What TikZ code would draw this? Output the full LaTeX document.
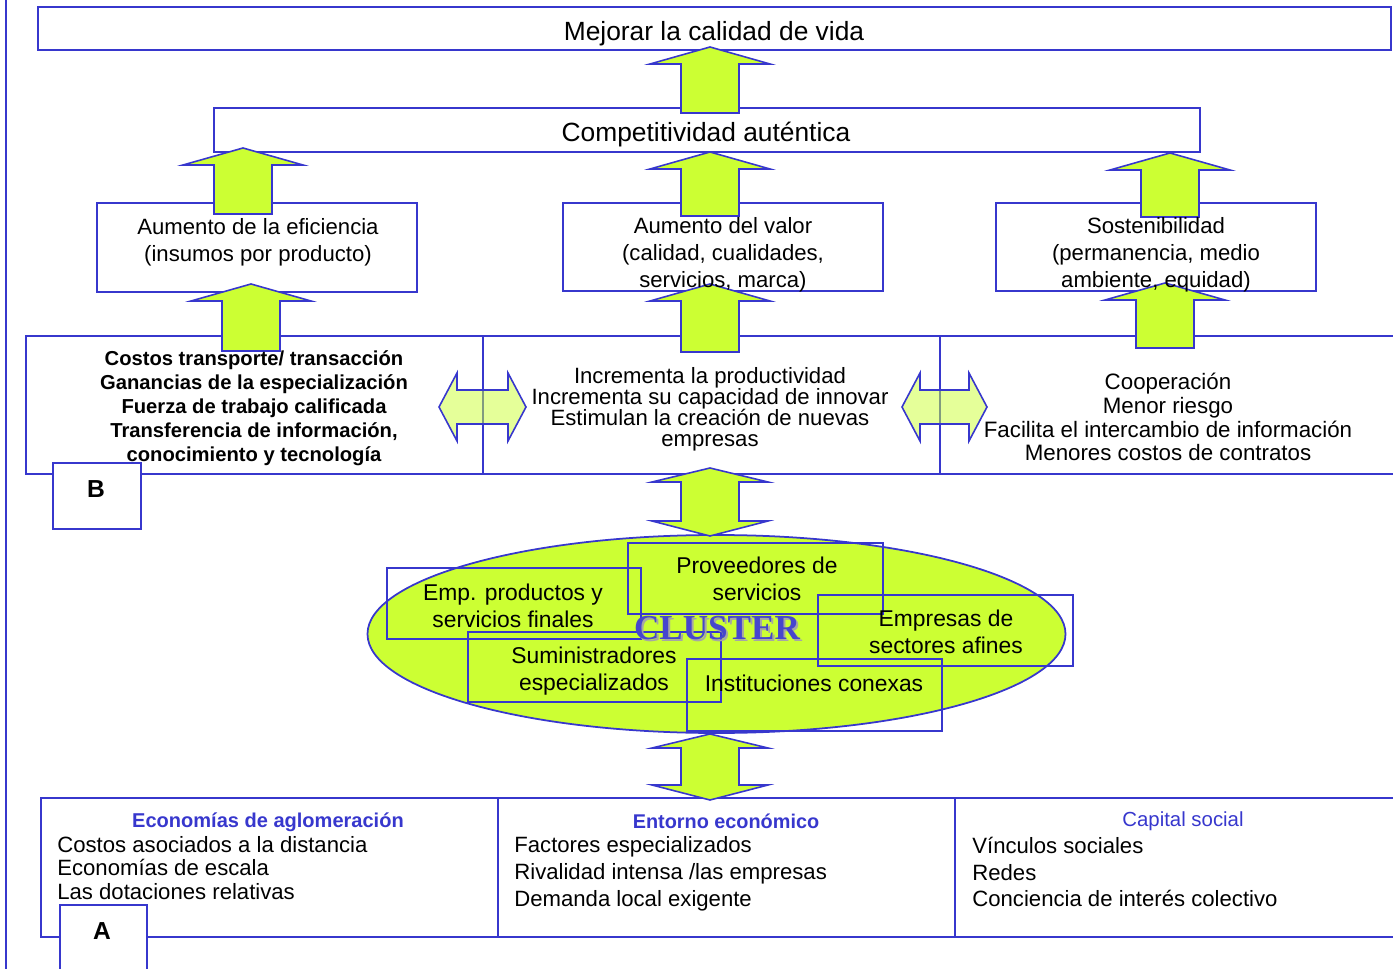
\documentclass[tikz,border=0pt]{standalone}
\usepackage{fontspec}
\setmainfont{Liberation Sans}
\newfontfamily\clusterfont{Liberation Serif}
\usepackage{tikz}
\usetikzlibrary{calc}
\definecolor{boxblue}{RGB}{55,55,205}
\definecolor{lime}{RGB}{204,255,51}
\definecolor{clusterblue}{RGB}{70,70,205}
\tikzset{box/.style={draw=boxblue, line width=1pt},
blockarrow/.style={draw=boxblue, fill=lime, line width=0.9pt},
softarrow/.style={draw=boxblue, fill=lime, fill opacity=0.5, line width=0.9pt},
txt/.style={inner sep=0pt, align=center}}
% block arrow pointing up: x, tip y, tail y
\newcommand{\upblock}[3]{\filldraw[blockarrow] (#1,#2) -- (#1+60,#2+17) -- (#1+29,#2+17) -- (#1+29,#3) -- (#1-29,#3) -- (#1-29,#2+17) -- (#1-60,#2+17) -- cycle;}
% block arrow up and down: x, top tip, bottom tip
\newcommand{\vdblock}[3]{\filldraw[blockarrow] (#1,#2) -- (#1+58,#2+14) -- (#1+29,#2+14) -- (#1+29,#3-15) -- (#1+58,#3-15) -- (#1,#3) -- (#1-58,#3-15) -- (#1-29,#3-15) -- (#1-29,#2+14) -- (#1-58,#2+14) -- cycle;}
% block arrow left and right: y, left tip, right tip
\newcommand{\hdblock}[3]{\filldraw[softarrow] (#2,#1) -- (#2+18,#1-34) -- (#2+18,#1-17) -- (#3-18,#1-17) -- (#3-18,#1-34) -- (#3,#1) -- (#3-18,#1+34) -- (#3-18,#1+17) -- (#2+18,#1+17) -- (#2+18,#1+34) -- cycle;}

\begin{document}
\begin{tikzpicture}[x=0.02cm, y=-0.02cm]
\useasboundingbox (0,0) rectangle (1393,969);
\draw[boxblue, line width=0.8pt] (6,0) -- (6,969);
% goals
\draw[box] (38,7) rectangle (1391,50);
\draw[box] (214,108) rectangle (1200,152);
\draw[box] (97,203) rectangle (417,292);
\draw[box] (563,203) rectangle (883,291);
\draw[box] (996,203) rectangle (1316,291);
% effects
\draw[box] (26,336) rectangle (483,474);
\draw[box] (483,336) rectangle (940,474);
\draw[box] (940,336) rectangle (1400,474);
\draw[box, fill=white] (53,463) rectangle (141,529);
% bases
\draw[box] (41,798) rectangle (498,937);
\draw[box] (498,798) rectangle (955,937);
\draw[box] (955,798) rectangle (1400,937);
\draw[box, fill=white] (60,905) rectangle (147,980);
% cluster
\filldraw[draw=boxblue, fill=lime, line width=1pt] (716.5,634) ellipse [x radius=349, y radius=99];
\draw[box] (387,568) rectangle (641,639);
\draw[box] (628,543) rectangle (883,614);
\draw[box] (818,595) rectangle (1073,666);
\draw[box] (468,632) rectangle (721,702);
\draw[box] (687,659) rectangle (942,731);
% arrows
\upblock{710}{47}{113}
\upblock{243}{148}{214}
\upblock{710}{152}{216}
\upblock{1170}{153}{217}
\upblock{251}{284}{351}
\upblock{710}{284}{352}
\upblock{1165}{283}{348}
\vdblock{710}{468}{536}
\vdblock{710}{734}{800}
\hdblock{407}{439}{526}
\hdblock{407}{902}{987}
% texts
\node[txt, font=\fontsize{15}{18}\selectfont] (vida) at (714,34) {Mejorar la calidad de vida};
\node[txt, font=\fontsize{15}{18}\selectfont] (compet) at (706,135) {Competitividad auténtica};
\node[txt, font=\fontsize{12.6}{15.3}\selectfont] (eficiencia) at (258,242) {Aumento de la eficiencia\\(insumos por producto)};
\node[txt, font=\fontsize{12.6}{15.3}\selectfont] (valor) at (723,255) {Aumento del valor\\(calidad, cualidades,\\servicios, marca)};
\node[txt, font=\fontsize{12.6}{15.3}\selectfont] (sosten) at (1156,255) {Sostenibilidad\\(permanencia, medio\\ambiente, equidad)};
\node[txt, font=\bfseries\fontsize{11.5}{13.7}\selectfont] (costos) at (254,408) {Costos transporte/ transacción\\Ganancias de la especialización\\Fuerza de trabajo calificada\\Transferencia de información,\\conocimiento y tecnología};
\node[txt, font=\fontsize{12.6}{12}\selectfont] (increm) at (710,409) {Incrementa la productividad\\Incrementa su capacidad de innovar\\Estimulan la creación de nuevas\\empresas};
\node[txt, font=\fontsize{12.7}{13.6}\selectfont] (coop) at (1168,417) {Cooperación\\Menor riesgo\\Facilita el intercambio de información\\Menores costos de contratos};
\node[txt, font=\bfseries\fontsize{14}{16}\selectfont] (labelB) at (96,489) {B};
\node[txt, font=\bfseries\fontsize{14}{16}\selectfont] (labelA) at (102,931) {A};
\node[txt, font=\fontsize{13}{15.3}\selectfont] (finales) at (513,606) {Emp. productos y\\servicios finales};
\node[txt, font=\fontsize{13}{15.3}\selectfont] (proveed) at (757,579) {Proveedores de\\servicios};
\node[txt, font=\fontsize{13}{15.3}\selectfont] (afines) at (946,632) {Empresas de\\sectores afines};
\node[txt, font=\fontsize{13}{15.3}\selectfont] (suminis) at (594,671) {Suministradores\\especializados};
\node[txt, font=\fontsize{13}{15.3}\selectfont] (instit) at (814,683) {Instituciones conexas};
\node[txt, font=\clusterfont\bfseries\fontsize{20}{24}\selectfont, text=black!35] (clustershadow) at (719,630) {CLUSTER};
\node[txt, font=\clusterfont\bfseries\fontsize{20}{24}\selectfont, text=clusterblue] (cluster) at (717,628) {CLUSTER};
\node[txt, font=\bfseries\fontsize{11.4}{14}\selectfont, text=boxblue] (aglo) at (268,822) {Economías de aglomeración};
\node[anchor=west, align=left, inner sep=0pt, font=\fontsize{12.6}{13.6}\selectfont] (aglolist) at (57,868) {Costos asociados a la distancia\\Economías de escala\\Las dotaciones relativas};
\node[txt, font=\bfseries\fontsize{11.3}{14}\selectfont, text=boxblue] (entorno) at (726,821) {Entorno económico};
\node[anchor=west, align=left, inner sep=0pt, font=\fontsize{12.6}{15.3}\selectfont] (entornolist) at (514,874) {Factores especializados\\Rivalidad intensa /las empresas\\Demanda local exigente};
\node[txt, font=\fontsize{11.6}{14}\selectfont, text=boxblue] (capital) at (1183,821) {Capital social};
\node[anchor=west, align=left, inner sep=0pt, font=\fontsize{12.6}{15.3}\selectfont] (capitallist) at (972,872) {Vínculos sociales\\Redes\\Conciencia de interés colectivo};
\end{tikzpicture}
\end{document}
